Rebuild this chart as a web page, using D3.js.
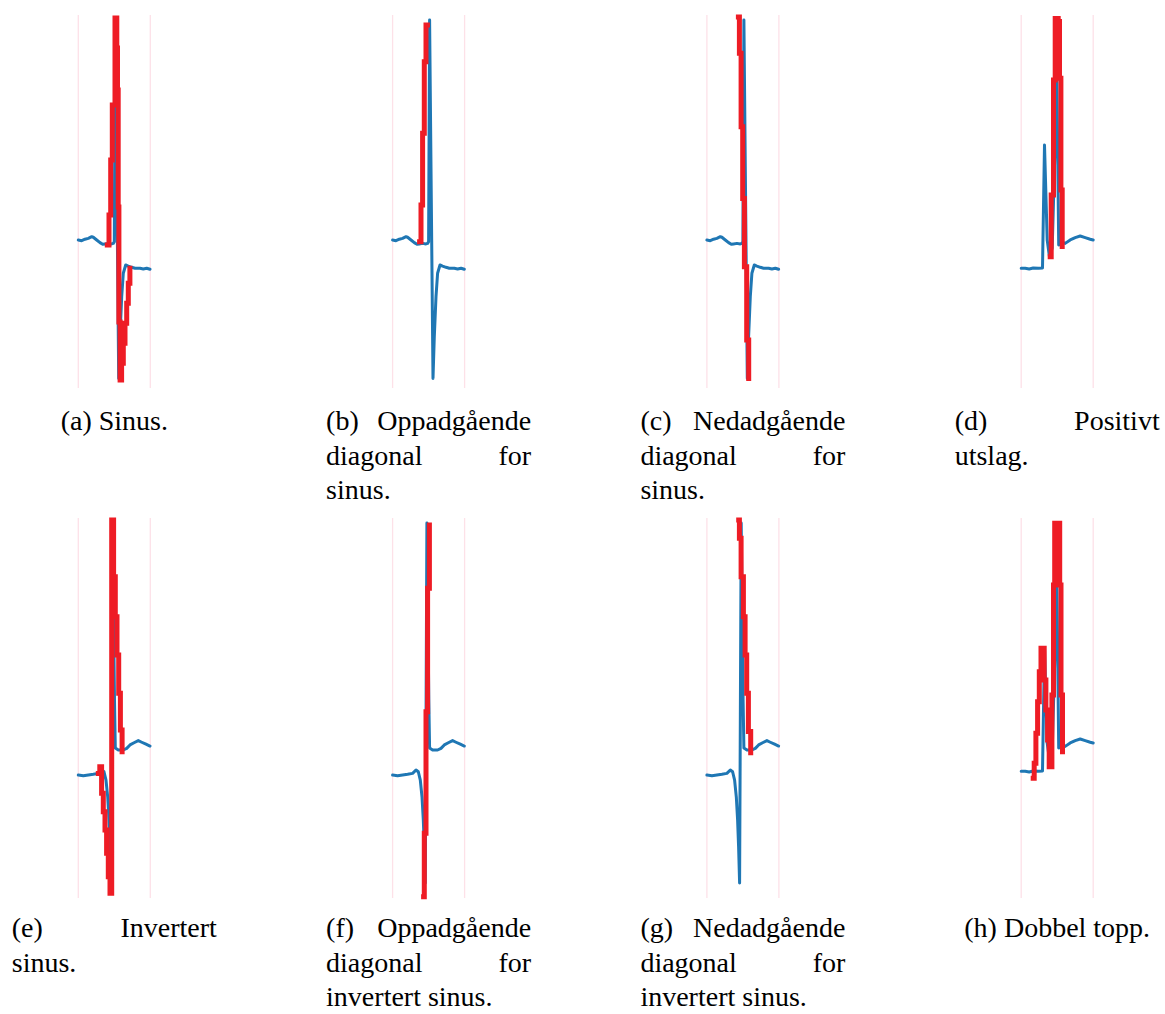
<!DOCTYPE html>
<html>
<head>
<meta charset="utf-8">
<script src="https://cdn.jsdelivr.net/npm/d3@7/dist/d3.min.js"></script>
<style>
body{margin:0;background:#fff;}
svg{display:block;}
</style>
</head>
<body>
<script>
// beat signals: sample position 0..72, amplitude normalised to [-1, 1]
var sinusX = [0,3.4,6.7,10,13.4,15,18.4,21.7,24.4,26.7,30,33.4,35,36,37,40.4,41.7,43.4,45,47.4,50,53.4,56.7,61.7,65,68.4,71.7];
var sinusY = [-0.222,-0.226,-0.218,-0.213,-0.204,-0.207,-0.222,-0.237,-0.246,-0.244,-0.241,-0.244,-0.241,-0.232,1.0,-0.991,-0.759,-0.537,-0.407,-0.361,-0.367,-0.374,-0.379,-0.379,-0.383,-0.379,-0.385];

var invX = [0,5,10,15,20,23.4,25.7,27.7,29.4,30.7,31.7,32.7,34.3,36.2,37,40,45,48.4,51.7,55.7,60,63.4,67.7,71.7];
var invY = [-0.4,-0.404,-0.4,-0.396,-0.391,-0.372,-0.382,-0.428,-0.521,-0.65,-0.798,-1,1,0.017,-0.25,-0.261,-0.261,-0.252,-0.233,-0.221,-0.209,-0.218,-0.229,-0.239];

var posX = [0,4,8,12,17.3,21.3,23.3,26,28.3,31,35.7,37.5,40,44,49,54,59,64,69,72];
var posY = [-0.379,-0.379,-0.383,-0.378,-0.379,-0.378,0.306,-0.222,-0.317,-0.267,0.667,-0.25,-0.233,-0.241,-0.222,-0.209,-0.2,-0.209,-0.218,-0.222];

// matched templates (red), drawn as steps
var redAX = [29.0,30.7,32.4,34.0,36.7,38.5,39.2,39.9,40.6,41.8,43.3,45.0,46.7,48.4,50.0,51.6];
var redAY = [-0.25,-0.083,0.222,0.528,1.011,0.844,0.611,-0.039,-0.678,-1.0,-0.907,-0.796,-0.685,-0.574,-0.463,-0.379];
var redBX = [27.0,28.4,30.0,31.7,33.4,34.8];
var redBY = [-0.232,-0.028,0.371,0.768,0.972,0.972];
var redCX = [31.5,32.5,34.2,35.8,37.5,39.8,41.8];
var redCY = [1.017,0.815,0.407,0.009,-0.371,-0.778,-0.991];
var redDX = [29.0,30.0,32.3,34.0,36.0,37.0,38.3,39.7,41.0];
var redDY = [-0.315,0.028,0.667,1.009,1.009,0.991,0.676,0.056,-0.259];
var redEX = [20.0,21.5,23.3,25.0,26.7,28.3,30.0,31.7,33.4,35.3,37.0,38.7,40.4,42.1,43.8];
var redEY = [-0.391,-0.354,-0.502,-0.604,-0.706,-0.835,-0.965,-1.057,1.017,0.702,0.479,0.267,0.054,-0.15,-0.271];
var redFX = [31.0,31.7,33.4,35.0,36.8];
var redFY = [-1.076,-0.724,-0.048,0.637,0.989];
var redGX = [31.8,32.5,34.2,36.5,38.2,39.8,41.5,43.8];
var redGY = [1.017,0.915,0.702,0.479,0.267,0.054,-0.159,-0.276];
var redHX = [12.0,13.0,14.7,16.4,18.1,19.8,21.5,23.0,24.7,26.4,28.0,29.7,30.7,32.3,33.5,37.5,38.5,39.8,41.3];
var redHY = [-0.418,-0.335,-0.168,0.007,0.174,0.304,0.304,0.128,-0.039,-0.206,-0.354,-0.354,0.044,0.656,0.998,0.998,0.656,0.044,-0.271];

var capA = ["(a) Sinus."];
var capB = ["(b) Oppadgående","diagonal for","sinus."];
var capC = ["(c) Nedadgående","diagonal for","sinus."];
var capD = ["(d) Positivt","utslag."];
var capE = ["(e) Invertert","sinus."];
var capF = ["(f) Oppadgående","diagonal for","invertert sinus."];
var capG = ["(g) Nedadgående","diagonal for","invertert sinus."];
var capH = ["(h) Dobbel topp."];

var W = 1165, H = 1014;
var colX = [78.3, 392.6, 706.9, 1021.2];
var rowTop = [20, 523];
var plotW = 72, plotH = 360;
var capW = 205, lineH = 34.5;
var capBase = [430, 937];
var capFont = "'Liberation Serif','Times New Roman',serif";

function zip(xs, ys){ return xs.map(function(x,i){ return [x, ys[i]]; }); }

var panels = [
	{col:0,row:0,bx:sinusX,by:sinusY,rx:redAX,ry:redAY,cap:capA},
	{col:1,row:0,bx:sinusX,by:sinusY,rx:redBX,ry:redBY,cap:capB},
	{col:2,row:0,bx:sinusX,by:sinusY,rx:redCX,ry:redCY,cap:capC},
	{col:3,row:0,bx:posX,by:posY,rx:redDX,ry:redDY,cap:capD},
	{col:0,row:1,bx:invX,by:invY,rx:redEX,ry:redEY,cap:capE},
	{col:1,row:1,bx:invX,by:invY,rx:redFX,ry:redFY,cap:capF},
	{col:2,row:1,bx:invX,by:invY,rx:redGX,ry:redGY,cap:capG},
	{col:3,row:1,bx:posX,by:posY,rx:redHX,ry:redHY,cap:capH}
];

var svg = d3.select("body").append("svg").attr("width",W).attr("height",H);

function addText(x, y, s){
	return svg.append("text")
		.attr("x",x).attr("y",y)
		.attr("font-family",capFont)
		.attr("font-size",28)
		.attr("fill","#000")
		.text(s);
}

panels.forEach(function(p){
	var x0 = colX[p.col], top = rowTop[p.row];
	var x = d3.scaleLinear().domain([0,72]).range([x0, x0+plotW]);
	var y = d3.scaleLinear().domain([-1,1]).range([top+plotH, top]);
	var g = svg.append("g");

	// faint frame sides
	[0,72].forEach(function(v){
		g.append("line")
			.attr("x1",x(v)).attr("x2",x(v))
			.attr("y1",top-5).attr("y2",top+plotH+(p.row ? 15 : 8))
			.attr("stroke","#fde1e8").attr("stroke-width",1.3);
	});

	var line = d3.line().x(function(d){ return x(d[0]); }).y(function(d){ return y(d[1]); });

	g.append("path")
		.attr("d", line(zip(p.bx,p.by)))
		.attr("fill","none")
		.attr("stroke","#1f77b4")
		.attr("stroke-width",3)
		.attr("stroke-linejoin","round")
		.attr("stroke-linecap","round");

	var step = d3.line().curve(d3.curveStepAfter)
		.x(function(d){ return x(d[0]); }).y(function(d){ return y(d[1]); });

	g.append("path")
		.attr("d", step(zip(p.rx,p.ry)))
		.attr("fill","none")
		.attr("stroke","#ee1c25")
		.attr("stroke-width",5)
		.attr("stroke-linejoin","miter")
		.attr("stroke-linecap","square");

	// caption, justified like the LaTeX subcaption
	var cx = x0 + plotW/2, left = cx - capW/2;
	p.cap.forEach(function(txt,i){
		var yb = capBase[p.row] + i*lineH;
		if(p.cap.length == 1){
			addText(cx, yb, txt).attr("text-anchor","middle");
			return;
		}
		var words = txt.split(" ");
		if(i == p.cap.length-1 || words.length == 1){
			addText(left, yb, txt);
			return;
		}
		var ws = words.map(function(w){ return addText(0, yb, w); });
		var lens = ws.map(function(tt){ return tt.node().getComputedTextLength(); });
		var gap = (capW - d3.sum(lens))/(words.length-1);
		var cur = left;
		ws.forEach(function(tt,k){
			tt.attr("x",cur);
			cur += lens[k] + gap;
		});
	});
});
</script>
</body>
</html>
